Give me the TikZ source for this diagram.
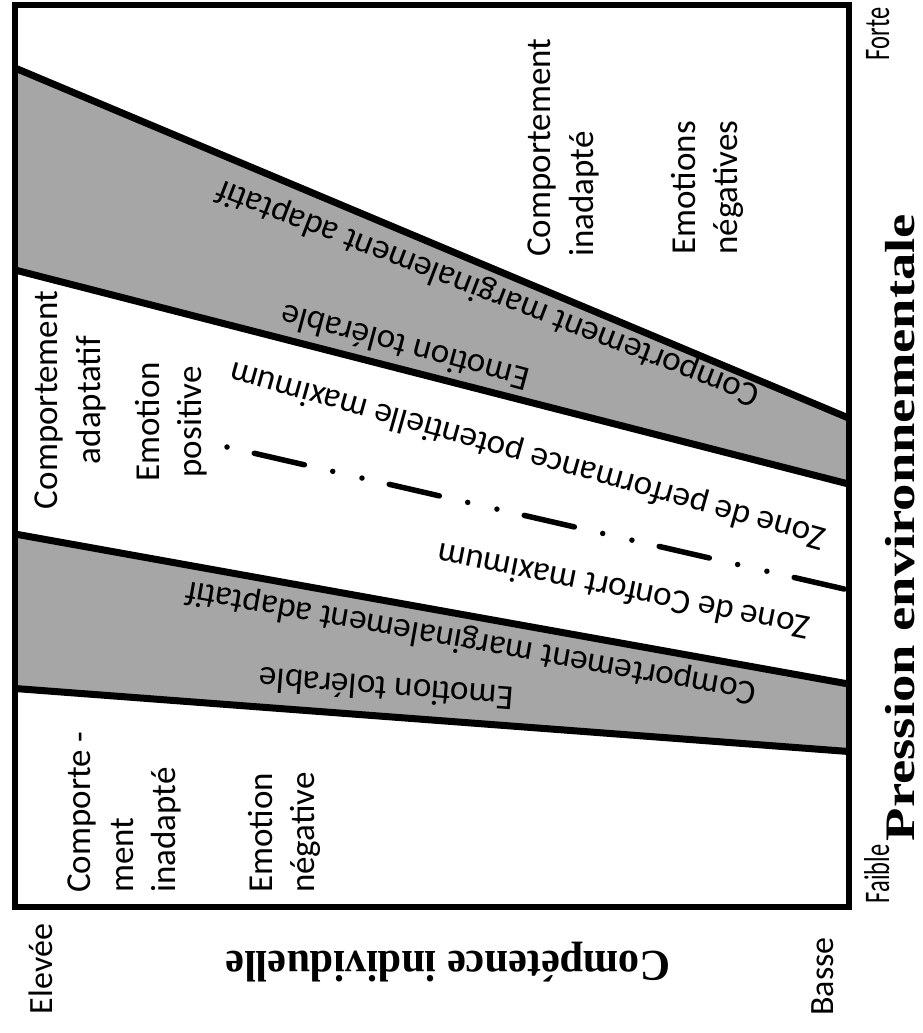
\documentclass[tikz,border=0pt]{standalone}
\usepackage{fontspec}
\usepackage{graphicx}
\setmainfont{Carlito}
\newfontfamily\timesfont{Liberation Serif}
\definecolor{bandgray}{RGB}{166,166,166}
\tikzset{
  lbl/.style={inner sep=0pt, font=\fontsize{35}{42.5}\selectfont},
  slant/.style={lbl, text height=24.5pt, text depth=7pt, anchor=center},
  sidelbl/.style={inner sep=0pt, font=\fontsize{36}{42}\selectfont, text height=25pt, text depth=7pt, anchor=center},
  endlbl/.style={inner sep=0pt, font=\fontsize{34}{40}\selectfont, text height=24pt, text depth=7pt, anchor=center},
  axislbl/.style={inner sep=0pt, font=\timesfont\bfseries\fontsize{42}{50}\selectfont, text height=30pt, text depth=9pt, anchor=center},
  bandline/.style={line width=7pt, black},
  frameline/.style={line width=6pt, black},
  midline/.style={line width=5.5pt, black, line cap=round,
    dash pattern=on 0pt off 28pt on 51.4pt off 29.1pt on 0pt off 30pt}
}
\begin{document}
\begin{tikzpicture}[x=1pt, y=-1pt]
\useasboundingbox (0,0) rectangle (923,1033);
\fill[white] (0,0) rectangle (923,1033);
% bands
\fill[bandgray] (15,68) -- (848.5,418) -- (848.5,484) -- (15,270) -- cycle;
\fill[bandgray] (15,534) -- (848.5,684) -- (848.5,751.5) -- (15,688.5) -- cycle;
\coordinate (u1l) at (15,68);   \coordinate (u1r) at (848.5,418);
\coordinate (u2l) at (15,270);  \coordinate (u2r) at (848.5,484);
\coordinate (l1l) at (15,534);  \coordinate (l1r) at (848.5,684);
\coordinate (l2l) at (15,688.5);\coordinate (l2r) at (848.5,751.5);
\coordinate (ms) at (227,447);  \coordinate (me) at (848.5,590);
\draw[bandline] (u1l) -- (u1r);
\draw[bandline] (u2l) -- (u2r);
\draw[bandline] (l1l) -- (l1r);
\draw[bandline] (l2l) -- (l2r);
\draw[midline] (ms) -- (me);
% frame
\draw[frameline] (15,5) rectangle (848.5,906.5);
% vertical texts inside
\node[lbl, rotate=90, align=left, anchor=north west] (ci) at (528,257) {Comportement\\inadapté};
\node[lbl, rotate=90, align=left, anchor=north west] (en) at (671,255) {Emotions\\négatives};
\node[lbl, rotate=90, align=center, anchor=north] (ca) at (35,400) {Comportement\\adaptatif};
\node[lbl, rotate=90, align=center, anchor=north] (ep) at (135,422) {Emotion\\positive};
\node[lbl, rotate=90, align=left, anchor=north west] (ci3) at (68,893) {Comporte -\\ment\\inadapté};
\node[lbl, rotate=90, align=left, anchor=north west] (eng) at (248,893) {Emotion\\négative};
% slanted texts
\node[slant, rotate=158.9] (ua) at (488,292) {Comportement marginalement adaptatif};
\node[slant, rotate=165] (ut) at (406,345) {Emotion tolérable};
\node[slant, rotate=164.3] (zp) at (528,454) {Zone de performance potentielle maximum};
\node[slant, rotate=168.7] (zc) at (624,589) {Zone de Confort maximum};
\node[slant, rotate=169.9] (la) at (471,641) {Comportement marginalement adaptatif};
\node[slant, rotate=175.6] (lt) at (387,686) {Emotion tolérable};
% outside labels
\node[sidelbl, rotate=90] (forte) at (880,34) {\scalebox{0.68}[1]{Forte}};
\node[sidelbl, rotate=90] (faible) at (880,874) {\scalebox{0.68}[1]{Faible}};
\node[axislbl, rotate=90] (pe) at (904,527.5) {\scalebox{1.3}[1]{Pression environnementale}};
\node[axislbl, rotate=180, font=\timesfont\bfseries\fontsize{44}{50}\selectfont] (comp) at (448,962) {\scalebox{0.96}[1]{Compétence individuelle}};
\node[endlbl, rotate=90] (elevee) at (44,969) {Elevée};
\node[endlbl, rotate=90] (basse) at (825,976.5) {Basse};
\end{tikzpicture}
\end{document}
